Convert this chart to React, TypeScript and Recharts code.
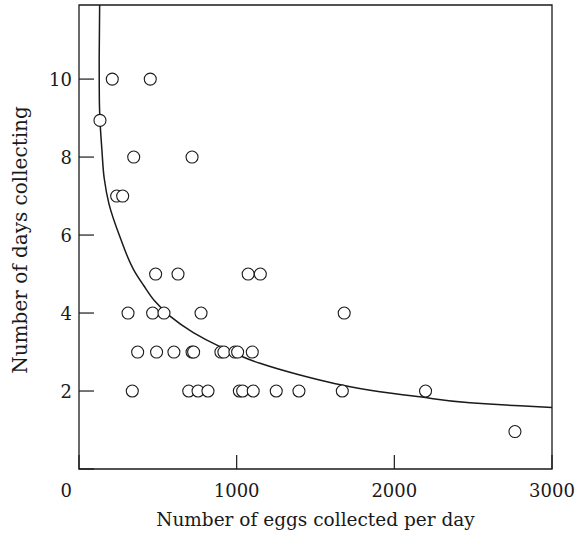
import { ComposedChart, XAxis, YAxis, Scatter, Line, ReferenceArea } from "recharts";

// observations: eggs collected per day vs. number of days collecting
const EGGS_PER_DAY = [
  211, 452, 133, 347, 717, 239, 277, 486, 628, 1073, 1150, 311, 467, 539, 774, 1682,
  372, 492, 602, 717, 727, 900, 919, 989, 1006, 1099,
  338, 696, 755, 818, 1017, 1038, 1105, 1251, 1395, 1670, 2198, 2765,
];
const DAYS_COLLECTING = [
  10, 10, 8.94, 8, 8, 7, 7, 5, 5, 5, 5, 4, 4, 4, 4, 4,
  3, 3, 3, 3, 3, 3, 3, 3, 3, 3,
  2, 2, 2, 2, 2, 2, 2, 2, 2, 2, 2, 0.96,
];

// fitted curve
const FIT_EGGS = [
  131, 128, 129, 133, 145, 160, 190, 260, 355, 408, 482, 577, 725, 894, 1148, 1401, 1613,
  1909, 2162, 2479, 2796, 3000,
];
const FIT_DAYS = [
  11.9, 10.5, 9.5, 8.95, 8.2, 7.45, 6.8, 5.95, 5.05, 4.72, 4.3, 3.92, 3.5, 3.14, 2.71, 2.41,
  2.2, 1.98, 1.85, 1.7, 1.62, 1.58,
];

const X_TICKS = [0, 1000, 2000, 3000];
const Y_TICKS = [0, 2, 4, 6, 8, 10];

const INK = "#1a1a1a";
const FONT = "'DejaVu Serif', serif";
const FONT_SIZE = 18;

const points = EGGS_PER_DAY.map((eggs, i) => ({ eggs, days: DAYS_COLLECTING[i] }));
const fitLine = FIT_EGGS.map((eggs, i) => ({ eggs, days: FIT_DAYS[i] }));

function XTick({ x, y, payload }: any) {
  const v = payload.value;
  const isOrigin = v === 0;
  return (
    <g>
      <line x1={x} x2={x} y1={y} y2={y - 14} stroke={INK} strokeWidth={1.2} />
      <text
        x={isOrigin ? x - 7 : x}
        y={y + 28}
        textAnchor={isOrigin ? "end" : "middle"}
        fill={INK}
        fontFamily={FONT}
        fontSize={FONT_SIZE}
      >
        {v}
      </text>
    </g>
  );
}

function YTick({ x, y, payload }: any) {
  const v = payload.value;
  return (
    <g>
      <line x1={x} x2={x + 15} y1={y} y2={y} stroke={INK} strokeWidth={1.2} />
      {v !== 0 && (
        <text x={x - 7} y={y + 6.5} textAnchor="end" fill={INK} fontFamily={FONT} fontSize={FONT_SIZE}>
          {v}
        </text>
      )}
    </g>
  );
}

function renderXTitle({ viewBox }: any) {
  const cx = viewBox.x + viewBox.width / 2;
  return (
    <text x={cx} y={526} textAnchor="middle" fill={INK} fontFamily={FONT} fontSize={18.5}>
      Number of eggs collected per day
    </text>
  );
}

function renderYTitle({ viewBox }: any) {
  const cy = viewBox.y + viewBox.height / 2 + 3;
  return (
    <text
      x={27}
      y={cy}
      transform={`rotate(-90 27 ${cy})`}
      textAnchor="middle"
      fill={INK}
      fontFamily={FONT}
      fontSize={20}
    >
      Number of days collecting
    </text>
  );
}

function OpenCircle({ cx, cy }: any) {
  return <circle cx={cx} cy={cy} r={6} fill="#fff" stroke={INK} strokeWidth={1.1} />;
}

export default function App() {
  return (
    <div style={{ position: "absolute", left: 0, top: 0, background: "#fff" }}>
      <ComposedChart width={578} height={535} margin={{ top: 5, right: 26, bottom: 0, left: 0 }}>
        <XAxis
          type="number"
          dataKey="eggs"
          domain={[0, 3000]}
          ticks={X_TICKS}
          height={66}
          axisLine={false}
          tickLine={false}
          tickSize={0}
          tickMargin={0}
          tick={<XTick />}
          label={renderXTitle}
        />
        <YAxis
          type="number"
          dataKey="days"
          domain={[0, 11.9]}
          ticks={Y_TICKS}
          width={79}
          axisLine={false}
          tickLine={false}
          tickSize={0}
          tickMargin={0}
          tick={<YTick />}
          label={renderYTitle}
        />
        <ReferenceArea x1={0} x2={3000} y1={0} y2={11.9} fill="none" stroke={INK} strokeWidth={1.3} />
        <Line
          data={fitLine}
          dataKey="days"
          type="monotoneY"
          stroke={INK}
          strokeWidth={1.5}
          dot={false}
          activeDot={false}
          isAnimationActive={false}
        />
        <Scatter data={points} dataKey="days" shape={<OpenCircle />} isAnimationActive={false} />
      </ComposedChart>
    </div>
  );
}
